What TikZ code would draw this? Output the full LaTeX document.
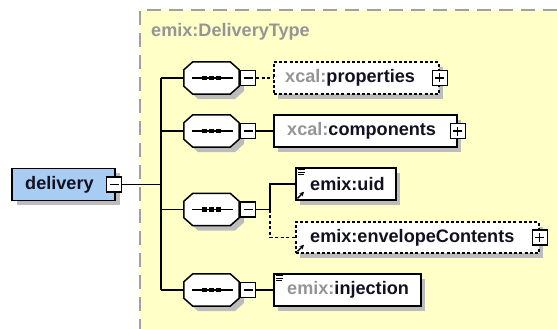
\documentclass[tikz,border=0pt]{standalone}
\usepackage{fontspec}
\setmainfont{Liberation Sans}
\usetikzlibrary{arrows.meta,calc}
\definecolor{cyel}{HTML}{FFFFC8}
\definecolor{cborder}{HTML}{A0A0A0}
\definecolor{shadowgrey}{RGB}{188,188,188}
\definecolor{delblue}{HTML}{A8CCF2}
\definecolor{pregray}{HTML}{959595}
\definecolor{namecol}{HTML}{111122}
\newcommand{\pre}[1]{\textcolor{pregray}{#1}}
\begin{document}
\begin{tikzpicture}[x=1pt,y=-1pt,
  font=\fontsize{18.1}{20}\selectfont\bfseries,
  elbox/.style={draw=black,line width=1.6pt,fill=white,minimum height=32pt,inner sep=0pt},
  optbox/.style={elbox,dash pattern=on 3pt off 2.2pt},
  shadowfill/.style={fill=shadowgrey,draw=none},
  minusbox/.style={draw=black,fill=white,line width=1.2pt,minimum size=15pt,inner sep=0pt,
    path picture={\draw[line width=1.2pt] ([xshift=3pt]path picture bounding box.west) -- ([xshift=-3pt]path picture bounding box.east);}},
  plusbox/.style={draw=black,fill=white,line width=1.2pt,minimum size=15pt,inner sep=0pt,
    path picture={\draw[line width=1.2pt] ([xshift=3pt]path picture bounding box.west) -- ([xshift=-3pt]path picture bounding box.east)
      ([yshift=-3pt]path picture bounding box.north) -- ([yshift=3pt]path picture bounding box.south);}},
  lbl/.style={anchor=west,inner sep=0pt,text=namecol},
  conn/.style={draw=black,line width=1.5pt},
  optconn/.style={conn,dash pattern=on 3pt off 2.5pt},
  icon/.style={line width=0.9pt}
]
\useasboundingbox (0,0) rectangle (557,329);
% container
\fill[cyel] (140,10) rectangle (557,329);
\draw[cborder,line width=1.4pt,dash pattern=on 14pt off 8pt] (557,10) -- (140,10) -- (140,329);
\node[anchor=base west,inner sep=0pt,text=pregray] (title) at (151,37) {emix:DeliveryType};

% shadows (offset 5px right and down)
\fill[shadowfill] (17,173) rectangle (120,205);
\fill[shadowfill] (278,67) rectangle (443,99);
\fill[shadowfill] (278,120) rectangle (461,152);
\fill[shadowfill] (300,173) rectangle (400,205);
\fill[shadowfill] (300,227) rectangle (543,258);
\fill[shadowfill] (278,279) rectangle (425,311);
\foreach \cy in {78,131,209.5,290}{
  \fill[shadowfill] (198,\cy-11) -- (235,\cy-11) -- (244,\cy-3) -- (244,\cy+13) -- (235,\cy+21)
     -- (198,\cy+21) -- (189,\cy+13) -- (189,\cy-3) -- cycle;
}

% root
\node[elbox,fill=delblue,minimum width=103pt] (del) at (63.5,184.5) {};
\node[lbl] (delt) at (25,184.5) {delivery};
\node[minusbox] (delm) at (114,184.5) {};
\coordinate (tr) at (161,184.5);

% sequences
\foreach \s/\cy in {s1/78,s2/131,s3/209.5,s4/290}{
  \node[minimum width=55pt,minimum height=32pt,inner sep=0pt,draw=none] (\s) at (211.5,\cy) {};
  \filldraw[fill=white,draw=black,line width=1.5pt,line join=round]
    ([xshift=9pt]\s.north west) -- ([xshift=-9pt]\s.north east) -- ([yshift=-8pt]\s.north east)
    -- ([yshift=8pt]\s.south east) -- ([xshift=-9pt]\s.south east) -- ([xshift=9pt]\s.south west)
    -- ([yshift=8pt]\s.south west) -- ([yshift=-8pt]\s.north west) -- cycle;
  \draw[line width=1.4pt] ([xshift=8pt]\s.west) -- ([xshift=-6pt]\s.east);
  \foreach \dx in {-7,0,7}
    \fill ([xshift=\dx pt]\s.center) +(-2.2,-2.2) rectangle +(2.2,2.2);
}
\node[minusbox] (m1) at (248,78) {};
\node[minusbox] (m2) at (248,131) {};
\node[minusbox] (m3) at (248,209.5) {};
\node[minusbox] (m4) at (248,290) {};

% elements
\node[optbox,anchor=west,minimum width=165pt] (prop) at (273,78) {};
\node[lbl] (propt) at (285,78) {\pre{xcal:}properties};
\node[plusbox] (pp) at (prop.east) {};

\node[elbox,anchor=west,minimum width=183pt] (comp) at (273,131) {};
\node[lbl] (compt) at (287,131) {\pre{xcal:}components};
\node[plusbox] (cp) at (comp.east) {};

\coordinate (br) at (270,209.5);
\node[elbox,anchor=west,minimum width=100pt] (uid) at (295,184) {};
\node[lbl] (uidt) at (310,184) {emix:uid};

\node[optbox,anchor=west,minimum width=243pt,minimum height=31pt] (env) at (295,237.5) {};
\node[lbl] (envt) at (310,237.5) {emix:envelopeContents};
\node[plusbox] (ep) at (env.east) {};

\node[elbox,anchor=west,minimum width=147pt] (inj) at (273,290) {};
\node[lbl] (injt) at (287,290) {\pre{emix:}injection};

% icons
\draw[icon] ([shift={(3,2.5)}]uid.north west) -- ++(7,0)
            ([shift={(3,5)}]uid.north west) -- ++(7,0)
            ([shift={(3,7.5)}]uid.north west) -- ++(6,0);
\draw[-{Stealth[length=4.5pt,width=4.5pt]},line width=1.4pt] ([shift={(2.5,-2.5)}]uid.south west) -- ++(6.5,-6.5);
\draw[-{Stealth[length=4.5pt,width=4.5pt]},line width=1.4pt] ([shift={(2.5,-2.5)}]env.south west) -- ++(6.5,-6.5);
\draw[icon] ([shift={(3,2.5)}]inj.north west) -- ++(7,0)
            ([shift={(3,5)}]inj.north west) -- ++(7,0)
            ([shift={(3,7.5)}]inj.north west) -- ++(6,0);

% connectors
\draw[conn] (delm.east) -- (tr);
\draw[conn] (tr |- s1.west) -- (tr |- s4.west);
\foreach \s in {s1,s2,s3,s4}
  \draw[conn] (tr |- \s.west) -- (\s.west);
\draw[optconn] (m1.east) -- (prop.west);
\draw[conn] (m2.east) -- (comp.west);
\draw[conn] (m3.east) -- (br);
\draw[conn] (br) |- (uid.west);
\draw[optconn] (br) |- (env.west);
\draw[conn] (m4.east) -- (inj.west);
\end{tikzpicture}
\end{document}
